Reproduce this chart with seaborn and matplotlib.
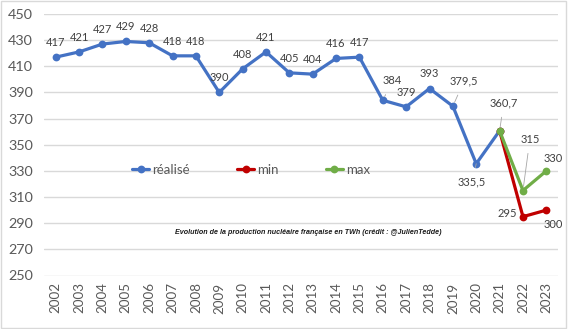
import matplotlib
matplotlib.use("Agg")
import matplotlib.pyplot as plt
import seaborn as sns
import pandas as pd
from matplotlib.patches import Rectangle

# Production nucléaire française (TWh)
years_real = list(range(2002, 2022))
realise = [417, 421, 427, 429, 428, 418, 418, 390, 408, 421,
           405, 404, 416, 417, 384, 379, 393, 379.5, 335.5, 360.7]
years_proj = [2021, 2022, 2023]
val_min = [360.7, 295, 300]
val_max = [360.7, 315, 330]
all_years = list(range(2002, 2024))
y_ticks = list(range(250, 451, 20))

BLUE = "#4472C4"
RED = "#C00000"
GREEN = "#70AD47"
GRID = "#D9D9D9"
TXT = "#595959"
LBL = "#404040"

sns.set_theme(style="white")
plt.rcParams["font.family"] = ["Lato", "DejaVu Sans"]

fig = plt.figure(figsize=(5.68, 3.29), dpi=100)
ax = fig.add_axes([44 / 568, 1 - 275.5 / 329, (558 - 44) / 568, (275.5 - 14) / 329])

df_real = pd.DataFrame({"annee": years_real, "TWh": realise})
df_min = pd.DataFrame({"annee": years_proj, "TWh": val_min})
df_max = pd.DataFrame({"annee": years_proj, "TWh": val_max})

common = dict(marker="o", markersize=5.6, markeredgewidth=0, linewidth=2.3, ax=ax)
sns.lineplot(data=df_min, x="annee", y="TWh", color=RED, label="min", zorder=3, **common)
sns.lineplot(data=df_max, x="annee", y="TWh", color=GREEN, label="max", zorder=4, **common)
sns.lineplot(data=df_real, x="annee", y="TWh", color=BLUE, label="réalisé", zorder=2, **common)

ax.set_xlim(2001.5, 2023.5)
ax.set_ylim(250, 450)
ax.set_xticks(all_years)
ax.set_xticklabels([str(y) for y in all_years], rotation=90, fontsize=9.6, color=TXT)
ax.set_yticks(y_ticks)
ax.set_yticklabels([str(v) for v in y_ticks], fontsize=10.4, color=TXT)
ax.tick_params(axis="x", length=0, pad=5)
ax.tick_params(axis="y", length=0, pad=8)
ax.set_xlabel("")
ax.set_ylabel("")
ax.grid(axis="y", color=GRID, linewidth=1)
ax.grid(axis="x", visible=False)
for s in ax.spines.values():
    s.set_visible(False)


def fmt(v):
    return (f"{v:g}").replace(".", ",")


# labels placed directly above the points
for x, v in zip(years_real, realise):
    if x in (2016, 2019, 2020, 2021):
        continue
    ax.annotate(fmt(v), (x, v), xytext=(0, 10.5), textcoords="offset points",
                ha="center", va="center", fontsize=8, color=LBL)


# labels offset with a leader line
def lead(x, v, dx, dy):
    ax.annotate(fmt(v), (x, v), xytext=(dx, dy), textcoords="offset points",
                ha="center", va="center", fontsize=8, color=LBL,
                arrowprops=dict(arrowstyle="-", color="#A6A6A6", lw=0.6,
                                shrinkA=4, shrinkB=3))


lead(2016, 384, 7, 14)
lead(2019, 379.5, 8, 18)
lead(2021, 360.7, 3, 20)
lead(2022, 315, 5, 37)
lead(2020, 335.5, -3, -13)

for x, v, dx, dy in [(2023, 330, 5, 9), (2022, 295, -11, 2), (2023, 300, 5, -10)]:
    ax.annotate(fmt(v), (x, v), xytext=(dx, dy), textcoords="offset points",
                ha="center", va="center", fontsize=8, color=LBL)

h, l = ax.get_legend_handles_labels()
order = [l.index("réalisé"), l.index("min"), l.index("max")]
ax.legend([h[i] for i in order], [l[i] for i in order], loc="center",
          bbox_to_anchor=(251 / 568, 1 - 170 / 329), bbox_transform=fig.transFigure,
          ncol=3, frameon=False, fontsize=9.5, handlelength=1.3, handletextpad=0.2,
          columnspacing=3.6, labelcolor=TXT)

fig.text(308 / 568, 1 - 233 / 329,
         "Evolution de la production nucléaire française en TWh (crédit : @JulienTedde)",
         ha="center", va="center", fontsize=5.1, fontweight="bold", fontstyle="italic",
         family=["Liberation Sans", "DejaVu Sans"], color="#1a1a1a")

fig.add_artist(Rectangle((0.002, 0.003), 0.994, 0.994, transform=fig.transFigure,
                         fill=False, edgecolor=GRID, linewidth=1))

fig.savefig("out.png", dpi=100)
